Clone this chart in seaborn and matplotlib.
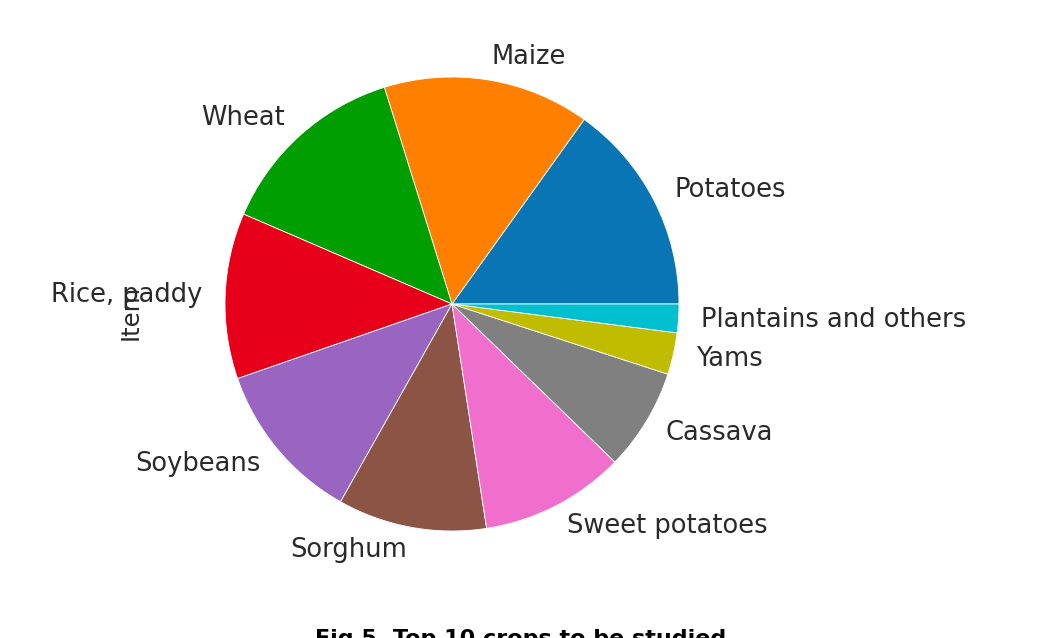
import matplotlib
matplotlib.use("Agg")
import matplotlib.pyplot as plt
import seaborn as sns
import pandas as pd

items = ["Potatoes", "Maize", "Wheat", "Rice, paddy", "Soybeans", "Sorghum",
         "Sweet potatoes", "Cassava", "Yams", "Plantains and others"]
shares = [15.1, 14.7, 13.7, 11.8, 11.5, 10.6, 10.3, 7.25, 2.97, 2.03]
slice_colors = ["#0a75b5", "#ff7f00", "#009e00", "#e6001a", "#9a65c0",
                "#8c5444", "#f06ecc", "#808080", "#c0bd00", "#00bfcf"]
caption = "Fig 5. Top 10 crops to be studied"

sns.set_style("white")
plt.rcParams["font.family"] = ["DejaVu Sans"]
palette = sns.color_palette(slice_colors)

df = pd.DataFrame({"Item": items, "share": shares}).set_index("Item")

fig = plt.figure(figsize=(10.46, 6.38), dpi=100)
ax = fig.add_axes([168.25 / 1046, 50.25 / 638, 567.5 / 1046, 567.5 / 638])
ax.pie(df["share"], labels=df.index, colors=palette, labeldistance=1.1,
       textprops={"fontsize": 18.5, "color": "#2a2a2a"},
       wedgeprops={"linewidth": 0.6, "edgecolor": "white"})
ax.set_xlim(-1.25, 1.25)
ax.set_ylim(-1.25, 1.25)
ax.set_aspect("equal")
ax.set_ylabel("Item", fontsize=17.5, color="#2a2a2a")
ax.yaxis.set_label_coords(-0.045, 0.485)
for s in ax.spines.values():
    s.set_visible(False)

fig.text(315 / 1046, (638 - 629) / 638, caption, ha="left", va="top",
         fontsize=16, fontweight="bold", color="black")

fig.savefig("out.png", dpi=100, facecolor="white")
